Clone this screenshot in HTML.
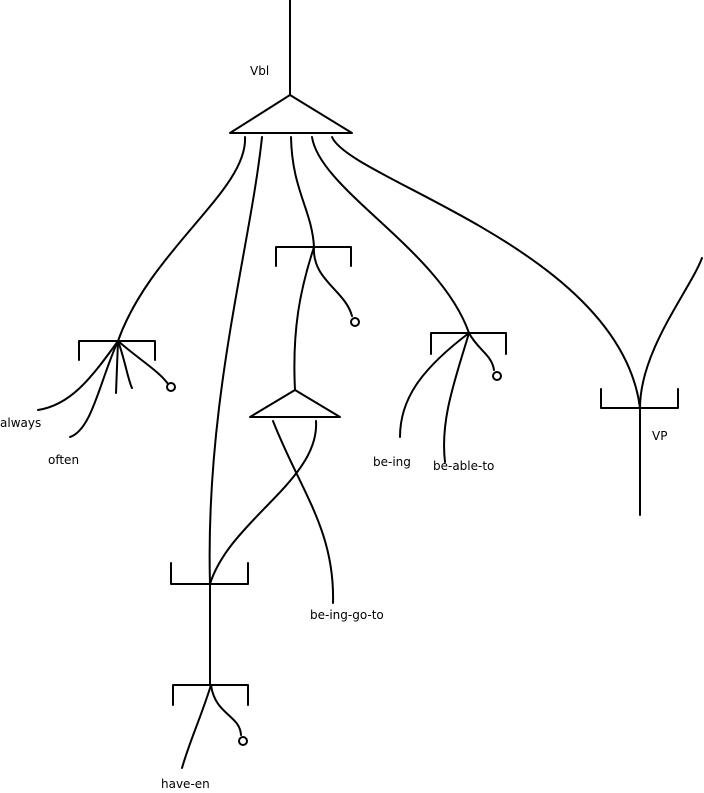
<!DOCTYPE html>
<html><head><meta charset="utf-8"><style>
html,body{margin:0;padding:0;background:#fff;}
svg{display:block}
text{font-family:"DejaVu Sans","Liberation Sans",sans-serif;font-size:12px;fill:#000}
</style></head><body>
<svg width="704" height="793" viewBox="0 0 704 793" xmlns="http://www.w3.org/2000/svg">
<g fill="none" stroke="#000" stroke-width="2" stroke-linecap="round" stroke-linejoin="round">
<!-- top -->
<line x1="290" y1="0" x2="290" y2="95"/>
<polygon points="290,95 230,133 352,133"/>
<!-- branches from top triangle -->
<path d="M245,137 C248,190 150,250 118,341"/>
<path d="M262,137 C250,250 205,400 210,584"/>
<path d="M291,137 C292,190 312,210 314,247"/>
<path d="M312,137 C320,190 440,250 469,333"/>
<path d="M332,137 C350,180 620,250 640,408"/>
<!-- bracket 1 -->
<path d="M79,360 L79,341 L155,341 L155,360"/>
<path d="M118,341 C90,380 70,405 38,410"/>
<path d="M118,341 C100,380 92,430 70,437"/>
<line x1="118" y1="341" x2="116" y2="393"/>
<path d="M118,341 C125,360 128,380 132,388"/>
<path d="M118,341 C140,360 160,372 168,384"/>
<circle cx="171" cy="387" r="4"/>
<!-- bracket 2 -->
<path d="M276,266 L276,247 L351,247 L351,266"/>
<path d="M314,247 C312,280 345,290 352,316"/>
<circle cx="355" cy="322" r="4"/>
<path d="M314,247 C300,290 292,330 295,390"/>
<polygon points="295,390 250,417 340,417"/>
<path d="M273,421 C300,490 335,530 333,603"/>
<path d="M316,421 C320,480 230,520 210,584"/>
<!-- bracket 3 -->
<path d="M431,354 L431,333 L506,333 L506,354"/>
<path d="M469,333 C420,370 400,400 400,437"/>
<path d="M469,333 C455,380 440,420 445,462"/>
<path d="M469,333 C478,350 492,355 494,370"/>
<circle cx="497" cy="376" r="4"/>
<!-- VP -->
<path d="M601,389 L601,408 L678,408 L678,389"/>
<path d="M640,408 C640,350 690,290 702,258"/>
<line x1="640" y1="408" x2="640" y2="515"/>
<!-- bracket 4 -->
<path d="M171,563 L171,584 L248,584 L248,563"/>
<line x1="210" y1="584" x2="210" y2="685"/>
<!-- bracket 5 -->
<path d="M173,705 L173,685 L248,685 L248,705"/>
<path d="M211,685 C200,720 190,740 182,768"/>
<path d="M211,685 C215,715 240,715 241,735"/>
<circle cx="243" cy="741" r="4"/>
</g>
<text x="250" y="75">Vbl</text>
<text x="0" y="427">always</text>
<text x="48" y="464">often</text>
<text x="373" y="466">be-ing</text>
<text x="433" y="470">be-able-to</text>
<text x="652" y="440">VP</text>
<text x="310" y="619">be-ing-go-to</text>
<text x="161" y="788">have-en</text>
</svg>
</body></html>
